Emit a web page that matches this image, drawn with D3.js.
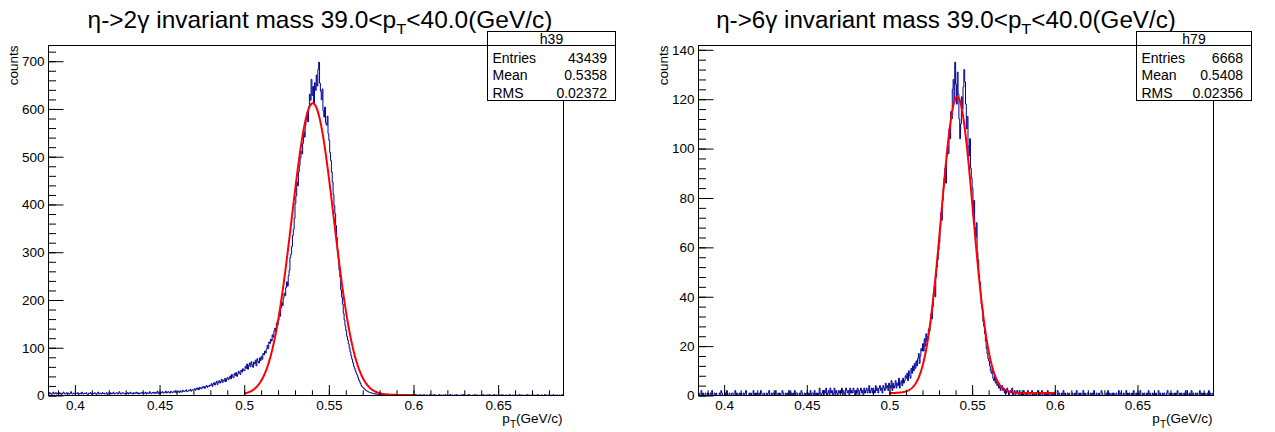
<!DOCTYPE html>
<html>
<head>
<meta charset="utf-8">
<script src="https://cdn.jsdelivr.net/npm/d3@7"></script>
<style>
  body { margin: 0; background: #fff; }
  svg { display: block; }
  text { font-family: "Liberation Sans", Arial, Helvetica, sans-serif; fill: #000; }
</style>
</head>
<body>
<svg id="canvas" width="1275" height="432"></svg>
<script>
// ---- histogram contents: 0.5 MeV bins, first bin starting at 0.384 GeV ----
const binWidth = 0.0005;
const binStart = 0.384;

// h39 : eta -> 2 gamma
const h39Counts = [
  5,3,6,4,2,5,7,3,4,6,3,5,
  4,6,3,5,2,4,7,5,3,4,6,2,5,3,4,8,4,3,5,4,
  3,5,4,6,2,4,5,3,7,4,3,5,4,6,3,2,5,4,6,3,
  5,3,4,6,4,2,5,7,3,4,5,3,6,4,5,3,4,6,2,5,
  4,6,3,5,4,7,3,4,5,6,3,4,8,5,3,4,6,5,4,3,
  5,4,6,3,5,7,4,5,3,6,4,5,7,4,6,3,5,4,6,5,
  6,4,5,7,3,6,5,4,8,5,4,6,5,7,4,6,5,9,4,6,
  7,5,6,8,5,7,6,9,5,7,8,6,5,9,7,6,8,7,10,6,
  8,7,9,6,10,8,7,11,9,8,10,12,8,9,11,10,13,9,11,12,
  12,14,11,15,13,16,12,17,15,14,18,16,19,15,18,21,17,20,19,22,
  21,25,19,24,27,22,26,30,23,28,31,26,29,34,27,32,30,36,29,35,
  38,33,36,41,35,44,39,37,46,42,48,40,45,51,47,44,53,49,56,52,
  52,61,57,66,55,63,68,60,71,64,59,70,66,74,62,77,71,68,79,73,
  82,76,88,85,93,89,97,105,98,112,109,118,114,127,122,135,141,133,152,148,
  158,171,166,183,195,188,204,214,209,226,238,229,251,262,289,296,312,335,348,371,
  402,418,447,439,468,482,497,511,506,528,553,541,566,579,592,573,604,631,618,662,
  628,647,612,655,639,671,648,683,698,654,637,619,642,596,583,604,571,566,585,548,
  534,509,492,468,447,421,398,381,356,331,305,287,262,248,221,206,191,172,158,146,
  136,124,116,108,99,91,83,76,69,62,57,52,47,43,38,33,29,25,21,18,
  17,15,13,11,10,9,8,7,6,6,5,5,4,4,3,4,3,3,2,3,
  2,3,1,2,3,2,1,2,2,1,3,2,1,2,1,2,2,1,3,1,
  1,2,1,2,1,0,2,1,1,2,1,0,1,2,1,1,0,2,1,1,
  1,0,2,1,1,0,1,2,0,1,1,0,2,1,0,1,1,0,1,2,
  0,1,1,0,2,1,0,1,0,1,2,0,1,1,0,1,0,2,1,0,
  1,0,1,2,0,1,1,0,1,0,2,1,0,1,0,1,1,0,2,1,
  0,1,0,1,1,2,0,1,0,1,0,1,2,0,1,1,0,1,0,1,
  1,0,2,0,1,0,1,1,0,2,1,0,1,0,1,2,0,1,1,0,
  0,1,0,1,2,0,1,0,1,1,0,1,0,2,1,0,1,1,0,1,
  1,0,1,0,1,2,0,1,1,0,1,0,1,0,2,1,0,1,0,1,
  0,1,1,0,1,0,2,1,0,1,0,1,1,0,1,2,0,1,0,1,
  1,0,1,1,0,2,0,1,0,1,1,0,1,0,1,0,2,1,0,1
];

// h79 : eta -> 6 gamma
const h79Counts = [
  0,1,0,0,2,0,1,0,0,1,0,0,
  1,0,0,1,0,2,0,0,1,0,1,0,0,0,1,0,2,1,0,0,
  0,1,0,2,0,0,1,0,0,1,1,0,0,2,0,1,0,0,1,0,
  1,0,0,1,0,1,2,0,0,0,1,0,1,0,0,2,0,1,0,1,
  0,0,1,0,2,1,0,0,1,0,0,1,0,1,2,0,0,1,0,1,
  1,0,2,0,0,1,0,1,0,0,2,1,0,0,1,0,1,0,2,0,
  0,1,0,1,0,2,0,1,1,0,0,1,0,2,1,0,0,1,0,1,
  1,0,1,0,2,0,1,1,0,2,0,1,0,1,0,3,1,0,1,2,
  0,2,1,3,0,1,2,0,3,1,2,0,1,3,0,2,1,0,2,1,
  2,1,3,0,2,1,0,3,2,1,2,0,3,1,2,1,3,2,0,2,
  1,3,2,0,2,3,1,2,0,3,1,2,3,1,2,4,1,2,3,1,
  3,2,1,4,2,3,1,3,4,2,3,1,4,3,2,5,3,4,2,5,
  4,3,6,2,5,3,4,6,3,5,4,7,3,5,6,4,7,5,6,8,
  7,9,6,10,8,7,11,9,12,10,13,11,14,12,15,17,13,16,19,18,
  21,18,23,20,25,22,24,27,26,29,33,31,36,41,44,40,48,52,55,59,
  62,68,74,71,79,84,88,92,86,97,101,98,108,104,115,112,124,128,119,135,
  126,118,131,122,112,104,110,121,116,125,132,127,118,108,113,101,97,104,92,88,
  84,73,79,68,64,70,58,55,49,46,41,37,35,30,28,25,22,19,17,15,
  14,12,10,9,11,7,6,8,5,6,4,5,3,4,2,3,4,2,3,1,
  2,1,3,2,0,1,2,1,3,0,1,2,0,1,2,1,0,2,1,0,
  1,0,2,1,0,1,0,2,1,0,0,1,2,0,1,0,1,0,1,2,
  0,1,0,1,2,0,0,1,0,1,0,2,0,1,0,0,1,0,1,0,
  1,0,0,2,0,1,0,0,1,0,2,0,1,0,0,1,0,1,0,0,
  0,1,0,0,1,0,2,0,0,1,0,1,0,0,2,0,1,0,0,1,
  1,0,0,1,0,1,0,2,0,0,1,0,0,1,0,0,2,1,0,0,
  0,0,1,0,2,0,1,0,0,1,0,1,0,0,1,0,0,2,0,1,
  1,0,0,1,0,0,2,0,1,0,1,0,0,1,0,2,0,0,1,0,
  0,1,0,2,0,0,1,0,1,0,0,1,0,2,0,1,0,0,1,0,
  1,0,1,0,0,2,0,1,0,0,1,0,1,0,0,1,2,0,0,1,
  0,1,0,0,1,0,1,0,2,0,0,1,0,1,0,0,1,0,2,0,
  1,0,0,1,0,2,0,1,0,0,1,0,1,0,0,2,0,1,0,1,
  0,1,0,0,1,0,2,0,1,0,0,1
];

// Gaussian + constant fits: [amplitude, mean, sigma, constant], fitted over fitRange
const h39Fit = [611, 0.5405, 0.0124, 1];
const h79Fit = [120, 0.5410, 0.0096, 1];
const fitRange = [0.5, 0.6];

// statistics boxes
const statLabels = ["Entries", "Mean", "RMS"];
const h39Stats = ["43439", "0.5358", "0.02372"];
const h79Stats = ["6668", "0.5408", "0.02356"];

// axis ticks
const xTicks = [0.4, 0.45, 0.5, 0.55, 0.6, 0.65];
const xMinorTicks = d3.range(39, 70).map(k => k / 100);
const h39YTicks = [0, 100, 200, 300, 400, 500, 600, 700];
const h39YMinor = d3.range(0, 740, 20);
const h79YTicks = [0, 20, 40, 60, 80, 100, 120, 140];
const h79YMinor = d3.range(0, 144, 4);

const svg = d3.select("#canvas");

const panels = [
  {
    id: "h39", decay: "2", counts: h39Counts, fit: h39Fit, stats: h39Stats,
    yTicks: h39YTicks, yMinor: h39YMinor,
    frame: { x0: 48.5, x1: 563.5, y0: 45.5, y1: 395.5 },
    xDomain: [0.3844, 0.6886],
    titleX: 320, titleW: 465,
    box: { x0: 487.5, x1: 615.5, y0: 31.5, y1: 100.5 },
    countsX: 18
  },
  {
    id: "h79", decay: "6", counts: h79Counts, fit: h79Fit, stats: h79Stats,
    yTicks: h79YTicks, yMinor: h79YMinor,
    frame: { x0: 698.5, x1: 1213.5, y0: 45.5, y1: 395.5 },
    xDomain: [0.3845, 0.696],
    titleX: 946, titleW: 460,
    box: { x0: 1136.5, x1: 1251.5, y0: 31.5, y1: 100.5 },
    countsX: 668
  }
];

const tickFont = 13.5;

panels.forEach(p => {
  const f = p.frame;
  const x = d3.scaleLinear().domain(p.xDomain).range([f.x0, f.x1]);
  const yMax = 1.05 * d3.max(p.counts);
  const y = d3.scaleLinear().domain([0, yMax]).range([f.y1, f.y0]);

  const g = svg.append("g");

  // clip region = frame
  const clipId = "clip-" + p.id;
  svg.append("clipPath").attr("id", clipId)
    .append("rect").attr("x", f.x0).attr("y", f.y0 - 1)
    .attr("width", f.x1 - f.x0).attr("height", f.y1 - f.y0 + 1);

  // histogram outline
  const pts = p.counts.map((c, i) => [binStart + i * binWidth, c]);
  pts.push([binStart + p.counts.length * binWidth, p.counts[p.counts.length - 1]]);
  const step = d3.line().x(d => x(d[0])).y(d => y(d[1])).curve(d3.curveStepAfter);
  g.append("path")
    .attr("clip-path", `url(#${clipId})`)
    .attr("d", step(pts))
    .attr("fill", "none")
    .attr("stroke", "#000099")
    .attr("stroke-width", 1);

  // fit function
  const [amp, mu, sigma, c0] = p.fit;
  const fx = d3.range(0, 501).map(k => fitRange[0] + k * (fitRange[1] - fitRange[0]) / 500);
  const fitLine = d3.line()
    .x(d => x(d))
    .y(d => y(amp * Math.exp(-0.5 * ((d - mu) / sigma) ** 2) + c0));
  g.append("path")
    .attr("clip-path", `url(#${clipId})`)
    .attr("d", fitLine(fx))
    .attr("fill", "none")
    .attr("stroke", "#ff0000")
    .attr("stroke-width", 2);

  // x axis: major + minor ticks pointing into the frame
  const xAxis = g.append("g").attr("transform", `translate(0,${f.y1})`)
    .call(d3.axisBottom(x).tickValues(xTicks).tickSizeInner(-10.5).tickSizeOuter(0)
      .tickPadding(5).tickFormat(d => String(+d.toFixed(2))));
  xAxis.select(".domain").remove();
  xAxis.selectAll("text").attr("font-size", tickFont);
  xAxis.attr("font-family", null);
  const xMinor = g.append("g").attr("transform", `translate(0,${f.y1})`)
    .call(d3.axisBottom(x).tickValues(xMinorTicks.filter(v => v > p.xDomain[0] && v < p.xDomain[1]))
      .tickSizeInner(-5.25).tickSizeOuter(0).tickFormat(""));
  xMinor.select(".domain").remove();

  // y axis
  const yAxis = g.append("g").attr("transform", `translate(${f.x0},0)`)
    .call(d3.axisLeft(y).tickValues(p.yTicks).tickSizeInner(-15).tickSizeOuter(0).tickPadding(4));
  yAxis.select(".domain").remove();
  yAxis.selectAll("text").attr("font-size", tickFont);
  yAxis.attr("font-family", null);
  const yMinor = g.append("g").attr("transform", `translate(${f.x0},0)`)
    .call(d3.axisLeft(y).tickValues(p.yMinor.filter(v => v <= yMax)).tickSizeInner(-7.5)
      .tickSizeOuter(0).tickFormat(""));
  yMinor.select(".domain").remove();
  g.selectAll(".tick line").attr("stroke", "#000");

  // frame
  g.append("rect")
    .attr("x", f.x0).attr("y", f.y0)
    .attr("width", f.x1 - f.x0).attr("height", f.y1 - f.y0)
    .attr("fill", "none").attr("stroke", "#000").attr("stroke-width", 1);

  // axis titles
  g.append("text")
    .attr("transform", `translate(${p.countsX},${f.y0}) rotate(-90)`)
    .attr("text-anchor", "end")
    .attr("font-size", tickFont)
    .text("counts");

  const xt = g.append("text")
    .attr("x", f.x1 - 1).attr("y", 422.5)
    .attr("text-anchor", "end")
    .attr("font-size", tickFont);
  xt.append("tspan").text("p");
  xt.append("tspan").attr("dy", 5).attr("font-size", 10).text("T");
  xt.append("tspan").attr("dy", -5).text("(GeV/c)");

  // title, stretched to the pad's title width
  const t = g.append("text")
    .attr("x", p.titleX).attr("y", 28.5)
    .attr("text-anchor", "middle")
    .attr("font-size", 23);
  t.append("tspan").text(`η->${p.decay}γ invariant mass 39.0<p`);
  t.append("tspan").attr("dy", 6).attr("font-size", 15.5).text("T");
  t.append("tspan").attr("dy", -6).text("<40.0(GeV/c)");
  const tw = t.node().getBBox().width;
  const sx = p.titleW / tw;
  t.attr("transform", `translate(${p.titleX},0) scale(${sx},1) translate(${-p.titleX},0)`);

  // statistics box
  const b = p.box;
  const sb = g.append("g");
  sb.append("rect")
    .attr("x", b.x0).attr("y", b.y0)
    .attr("width", b.x1 - b.x0).attr("height", b.y1 - b.y0)
    .attr("fill", "#fff").attr("stroke", "#000").attr("stroke-width", 1);
  sb.append("line")
    .attr("x1", b.x0).attr("x2", b.x1).attr("y1", 45.5).attr("y2", 45.5)
    .attr("stroke", "#000");
  sb.append("text")
    .attr("x", (b.x0 + b.x1) / 2).attr("y", 43.5)
    .attr("text-anchor", "middle").attr("font-size", 14)
    .text(p.id);
  const rowY = [62.5, 80, 97.5];
  statLabels.forEach((lab, i) => {
    sb.append("text").attr("x", b.x0 + 5).attr("y", rowY[i])
      .attr("font-size", 14).text(lab);
    sb.append("text").attr("x", b.x1 - 8.5).attr("y", rowY[i])
      .attr("text-anchor", "end").attr("font-size", 14).text(p.stats[i]);
  });
});
</script>
</body>
</html>
